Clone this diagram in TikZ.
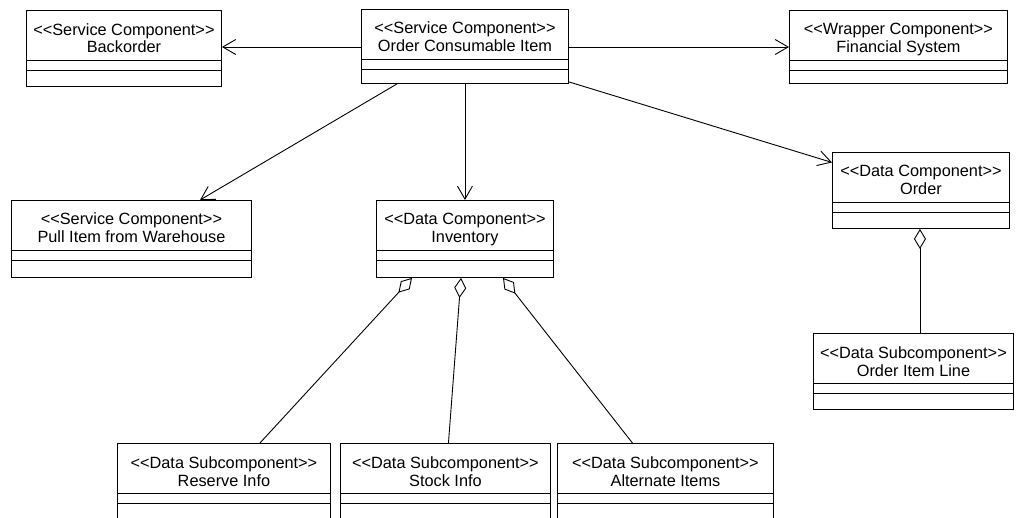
\documentclass[tikz,border=0pt]{standalone}
\usepackage{fontspec}
\setmainfont{Liberation Sans}
\usetikzlibrary{arrows.meta}
\tikzset{
  umlbox/.style={draw, line width=0.9pt, inner sep=0pt, fill=white},
  lbl/.style={inner sep=0pt, font=\fontsize{16.3}{18}\selectfont},
  dep/.style={line width=0.9pt, -{Straight Barb[length=13pt,width=15pt,line width=0.9pt]}},
  agg/.style={line width=0.9pt, {Diamond[open,length=20pt,width=12pt,line width=0.9pt]}-},
}
\newcommand{\umlbox}[9]{% name, x, y, w, h, stereo, title, base1, base2
  \node[umlbox, minimum width=#4pt, minimum height=#5pt, anchor=north west] (#1) at (#2,#3) {};
  \node[lbl, anchor=base] (#1-s) at ([yshift=-#8pt]#1.north) {<{}<#6>{}>};
  \node[lbl, anchor=base] (#1-t) at ([yshift=-#9pt]#1.north) {#7};
  \draw[line width=0.9pt] ([yshift=-50pt]#1.north west) -- ([yshift=-50pt]#1.north east);
  \draw[line width=0.9pt] ([yshift=-60pt]#1.north west) -- ([yshift=-60pt]#1.north east);
}
\begin{document}
\begin{tikzpicture}[x=1pt,y=-1pt]
\useasboundingbox (0,0) rectangle (1016,518);
\clip (0,0) rectangle (1016,518);
\fill[white] (0,0) rectangle (1016,518);

\umlbox{back}{26}{10}{195}{76}{Service Component}{Backorder}{26}{43}
\umlbox{oci}{361}{9}{207}{74}{Service Component}{Order Consumable Item}{25}{43}
\umlbox{fin}{789}{10}{218}{73}{Wrapper Component}{Financial System}{25}{43}
\umlbox{pull}{11}{200}{240}{77}{Service Component}{Pull Item from Warehouse}{25}{43}
\umlbox{inv}{376}{200}{177}{77}{Data Component}{Inventory}{25}{43}
\umlbox{order}{832}{152}{177}{76}{Data Component}{Order}{25}{43}
\umlbox{oil}{813}{333}{200}{76}{Data Subcomponent}{Order Item Line}{25}{43}
\umlbox{res}{117}{443}{213}{100}{Data Subcomponent}{Reserve Info}{25}{43}
\umlbox{stock}{340}{443}{210}{100}{Data Subcomponent}{Stock Info}{25}{43}
\umlbox{alt}{557}{443}{216}{100}{Data Subcomponent}{Alternate Items}{25}{43}

% dependencies
\draw[dep] ([yshift=-38pt]oci.north west) -- ([yshift=-37pt]back.north east);
\draw[dep] ([yshift=-38pt]oci.north east) -- ([yshift=-37pt]fin.north west);
\draw[dep] ([xshift=36pt]oci.south west) -- ([xshift=189pt]pull.north west);
\draw[dep] (oci.south) -- (inv.north);
\draw[dep] ([yshift=2pt]oci.south east) -- ([yshift=28pt]order.west);

% aggregations
\draw[agg] ([xshift=36pt]inv.south west) -- ([xshift=36pt]res.north);
\draw[agg] ([xshift=85pt]inv.south west) -- ([xshift=3pt]stock.north);
\draw[agg] ([xshift=127pt]inv.south west) -- ([xshift=-33pt]alt.north);
\draw[agg] ([xshift=-1pt]order.south) -- ([xshift=-1pt]order.south |- oil.north);
\end{tikzpicture}
\end{document}
